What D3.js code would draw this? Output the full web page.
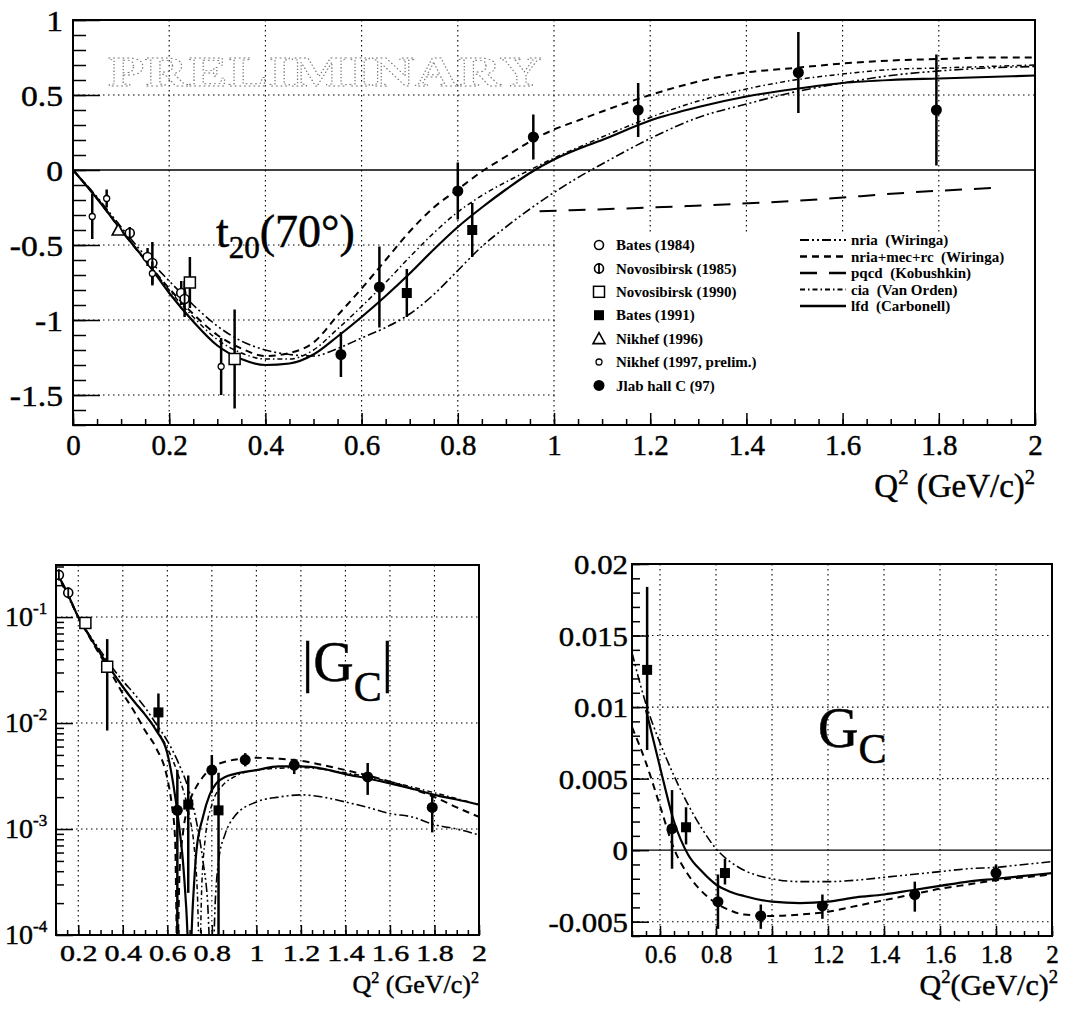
<!DOCTYPE html>
<html>
<head>
<meta charset="utf-8">
<script src="https://cdn.jsdelivr.net/npm/d3@7"></script>
<style>
  body { margin: 0; background: #fff; }
</style>
</head>
<body>
<div id="chart"></div>
<script>
// ===============Data

// ---- top panel : t20(70 deg)
var t20X = [0, 0.05, 0.1, 0.15, 0.2, 0.25, 0.3, 0.35, 0.4, 0.45, 0.5, 0.55, 0.6, 0.65, 0.7, 0.75,
            0.8, 0.85, 0.9, 0.95, 1.0, 1.05, 1.1, 1.2, 1.3, 1.4, 1.5, 1.6, 1.7, 1.8, 1.9, 2.0];
var t20Lfd = [0, -0.19, -0.4, -0.6, -0.82, -1.01, -1.17, -1.26, -1.3, -1.29, -1.23, -1.11, -0.98, -0.84, -0.69, -0.53,
              -0.38, -0.25, -0.13, -0.02, 0.07, 0.14, 0.2, 0.33, 0.42, 0.49, 0.54, 0.58, 0.6, 0.61, 0.62, 0.63];
var t20NriaMec = [0, -0.19, -0.4, -0.6, -0.79, -0.96, -1.1, -1.19, -1.24, -1.22, -1.15, -0.97, -0.79, -0.6, -0.41, -0.25,
                  -0.13, -0.01, 0.09, 0.19, 0.27, 0.33, 0.39, 0.5, 0.59, 0.65, 0.68, 0.71, 0.73, 0.74, 0.75, 0.75];
var t20Cia = [0, -0.19, -0.4, -0.6, -0.8, -0.98, -1.13, -1.22, -1.26, -1.26, -1.2, -1.06, -0.91, -0.75, -0.58, -0.42,
              -0.28, -0.17, -0.08, 0.0, 0.08, 0.15, 0.22, 0.35, 0.46, 0.54, 0.6, 0.64, 0.67, 0.68, 0.69, 0.7];
var t20Nria = [0, -0.18, -0.38, -0.57, -0.74, -0.9, -1.04, -1.14, -1.2, -1.23, -1.24, -1.19, -1.12, -1.05, -0.96, -0.83,
               -0.67, -0.51, -0.38, -0.26, -0.15, -0.05, 0.04, 0.21, 0.35, 0.44, 0.52, 0.58, 0.63, 0.66, 0.68, 0.69];
var t20PqcdX = [0.97, 1.28, 1.53, 1.74, 1.91];
var t20Pqcd = [-0.275, -0.24, -0.2, -0.15, -0.12];

// points [Q2, t20, error]
var t20Bates84 = [[0.155, -0.58, 0.06], [0.225, -0.82, 0.08]];
var t20Novo85 = [[0.118, -0.42, 0.04], [0.165, -0.62, 0.14], [0.232, -0.86, 0.12]];
var t20Novo90 = [[0.243, -0.75, 0.17], [0.336, -1.26, 0.33]];
var t20Bates91 = [[0.694, -0.82, 0.16], [0.83, -0.4, 0.18]];
var t20Nikhef96 = [[0.094, -0.4, 0.03]];
var t20Nikhef97 = [[0.04, -0.31, 0.15], [0.07, -0.19, 0.06], [0.165, -0.69, 0.08], [0.308, -1.31, 0.19]];
var t20Jlab = [[0.557, -1.23, 0.15], [0.637, -0.78, 0.27], [0.8, -0.14, 0.19], [0.957, 0.22, 0.15],
               [1.175, 0.4, 0.18], [1.508, 0.65, 0.27], [1.795, 0.4, 0.37]];

var t20XTicks = [0, 0.2, 0.4, 0.6, 0.8, 1, 1.2, 1.4, 1.6, 1.8, 2];
var t20YTicks = [-1.5, -1, -0.5, 0, 0.5, 1];

var dataNames = ["Bates (1984)", "Novosibirsk (1985)", "Novosibirsk (1990)", "Bates (1991)",
                 "Nikhef (1996)", "Nikhef (1997, prelim.)", "Jlab hall C (97)"];
var modelNames = ["nria  (Wiringa)", "nria+mec+rc  (Wiringa)", "pqcd  (Kobushkin)", "cia  (Van Orden)", "lfd  (Carbonell)"];

// ---- bottom left : |G_C| (log)
var gcAbsLfdX = [0.1, 0.15, 0.2, 0.25, 0.3, 0.35, 0.4, 0.45, 0.5, 0.55, 0.6, 0.625, 0.65, 0.67, 0.685, 0.7, 0.715,
                 0.73, 0.76, 0.79, 0.82, 0.86, 0.9, 1.0, 1.1, 1.2, 1.3, 1.4, 1.5, 1.6, 1.7, 1.8, 1.9, 2.0];
var gcAbsLfd = [0.27, 0.17, 0.1, 0.066, 0.045, 0.031, 0.022, 0.016, 0.012, 0.0085, 0.0052, 0.0028, 0.0012, 0.0005, 0.00018, 0.00005, 0.0002,
                0.0006, 0.0013, 0.0021, 0.0027, 0.0031, 0.0033, 0.0036, 0.0039, 0.0039, 0.0037, 0.0033, 0.003, 0.0027, 0.0024, 0.0021, 0.0019, 0.0017];
var gcAbsMecX = [0.1, 0.15, 0.2, 0.25, 0.3, 0.35, 0.4, 0.45, 0.5, 0.55, 0.6, 0.62, 0.635, 0.645, 0.655, 0.67,
                 0.7, 0.73, 0.76, 0.8, 0.9, 1.0, 1.1, 1.2, 1.3, 1.4, 1.5, 1.6, 1.7, 1.8, 1.9, 2.0];
var gcAbsMec = [0.27, 0.17, 0.1, 0.065, 0.043, 0.029, 0.019, 0.013, 0.0085, 0.0058, 0.003, 0.0017, 0.0008, 0.00006, 0.0004, 0.0009,
                0.0018, 0.0025, 0.0031, 0.0038, 0.0045, 0.0047, 0.0046, 0.0044, 0.004, 0.0036, 0.0032, 0.0028, 0.0024, 0.002, 0.0016, 0.0013];
var gcAbsNriaX = [0.1, 0.15, 0.2, 0.25, 0.3, 0.35, 0.4, 0.45, 0.5, 0.55, 0.6, 0.65, 0.7, 0.73, 0.76, 0.78, 0.795,
                  0.805, 0.815, 0.83, 0.86, 0.9, 1.0, 1.1, 1.2, 1.3, 1.4, 1.5, 1.6, 1.7, 1.8, 1.9, 2.0];
var gcAbsNria = [0.27, 0.17, 0.1, 0.068, 0.048, 0.034, 0.025, 0.019, 0.014, 0.0098, 0.0068, 0.0042, 0.0022, 0.0012, 0.0005, 0.00022, 0.00006,
                 0.00006, 0.0002, 0.0005, 0.0009, 0.0013, 0.0018, 0.002, 0.0021, 0.002, 0.0018, 0.0016, 0.0014, 0.0013, 0.0011, 0.001, 0.00088];
var gcAbsCiaX = [0.1, 0.2, 0.3, 0.4, 0.5, 0.55, 0.6, 0.65, 0.7, 0.72, 0.735, 0.745, 0.755, 0.77, 0.8, 0.85,
                 0.9, 1.0, 1.2, 1.4, 1.6, 1.8, 2.0];
var gcAbsCia = [0.27, 0.1, 0.046, 0.022, 0.012, 0.0088, 0.0058, 0.0032, 0.0013, 0.0007, 0.00025, 0.00006, 0.0003, 0.0008, 0.0017, 0.0026,
                0.0031, 0.0036, 0.0038, 0.0034, 0.0028, 0.0022, 0.0017];

// points [Q2, value, low, high]
var gcAbsBates84 = [[0.113, 0.25, 0.23, 0.27], [0.155, 0.17, 0.16, 0.18]];
var gcAbsNovo90 = [[0.232, 0.088, 0.082, 0.094], [0.33, 0.034, 0.0085, 0.062]];
var gcAbsBates91 = [[0.56, 0.0126, 0.0082, 0.019], [0.694, 0.0017, 0.00025, 0.0032], [0.83, 0.0015, 0.000001, 0.0034]];
var gcAbsJlab = [[0.645, 0.0015, 0.000001, 0.0036], [0.8, 0.0036, 0.0022, 0.005], [0.95, 0.0045, 0.0039, 0.0052],
                 [1.17, 0.004, 0.0033, 0.0046], [1.5, 0.0031, 0.0021, 0.0042], [1.79, 0.0016, 0.00093, 0.0021]];

var gcAbsXTicks = [0.2, 0.4, 0.6, 0.8, 1, 1.2, 1.4, 1.6, 1.8, 2];
var gcAbsYTicks = [1e-4, 1e-3, 1e-2, 1e-1];
var gcAbsYExp = ["-4", "-3", "-2", "-1"];

// ---- bottom right : G_C (linear)
var gcLfdX = [0.55, 0.6, 0.65, 0.7, 0.75, 0.8, 0.85, 0.9, 1.0, 1.1, 1.2, 1.3, 1.4, 1.5, 1.6, 1.7, 1.8, 1.9, 2.0];
var gcLfd = [0.0098, 0.0058, 0.002, -0.0003, -0.0015, -0.0024, -0.0029, -0.0032, -0.0036, -0.0037, -0.0036, -0.0033,
             -0.0031, -0.0028, -0.0025, -0.0022, -0.002, -0.0018, -0.0016];
var gcModelX = [0.5, 0.55, 0.6, 0.65, 0.7, 0.75, 0.8, 0.85, 0.9, 1.0, 1.1, 1.2, 1.3, 1.4, 1.5, 1.6, 1.7, 1.8, 1.9, 2.0];
var gcMec = [0.0086, 0.0061, 0.0031, 0.0001, -0.0017, -0.0029, -0.0037, -0.0042, -0.0045, -0.0046, -0.0045, -0.0043,
             -0.0039, -0.0035, -0.0031, -0.0027, -0.0024, -0.0021, -0.0019, -0.0017];
var gcNria = [0.0138, 0.0102, 0.0075, 0.0052, 0.0032, 0.0015, 0.0001, -0.0008, -0.0014, -0.002, -0.0022, -0.0022,
              -0.0021, -0.0019, -0.0017, -0.0015, -0.0013, -0.0012, -0.001, -0.0008];

var gcBates91 = [[0.554, 0.0126, 0.007, 0.0184], [0.693, 0.0016, 0.0004, 0.003], [0.832, -0.0016, -0.0024, -0.0006]];
var gcJlab = [[0.643, 0.0015, -0.0013, 0.0042], [0.807, -0.0036, -0.0055, -0.0017], [0.96, -0.0046, -0.0055, -0.0038],
              [1.18, -0.0039, -0.0048, -0.0031], [1.51, -0.0031, -0.0043, -0.0022], [1.8, -0.0016, -0.0022, -0.001]];

var gcXTicks = [0.6, 0.8, 1, 1.2, 1.4, 1.6, 1.8, 2];
var gcYTicks = [-0.005, 0, 0.005, 0.01, 0.015, 0.02];

// ===============Styles
var serif = '"Liberation Serif", "Times New Roman", serif';
var lineStyle = {
    nria:    { dash: "9,3,2,3,2,3", width: 1.6 },
    nriaMec: { dash: "7,5", width: 2 },
    pqcd:    { dash: "17,12", width: 2 },
    cia:     { dash: "5,3,1.5,3", width: 1.5 },
    lfd:     { dash: null, width: 2.2 }
};

// ===============SVG
var svg = d3.select("#chart").append("svg")
    .attr("width", 1067)
    .attr("height", 1012)
    .style("background", "#fff");

// ===========Scales (pixel ranges measured on the figure)
var xT = d3.scaleLinear().domain([0, 2]).range([73, 1035]);
var yT = d3.scaleLinear().domain([-1.7, 1]).range([425, 20]);
var xL = d3.scaleLinear().domain([0.1, 2]).range([56, 479]);
var yL = d3.scaleLog().domain([1e-4, 0.31]).range([935, 565]);
var xR = d3.scaleLinear().domain([0.5, 2]).range([632, 1052]);
var yR = d3.scaleLinear().domain([-0.006, 0.02]).range([936, 564]);

function pairs(xs, ys) {
    return xs.map(function(d, i) { return [d, ys[i]]; });
}

function makePanel(id, x, y, xGrid, yGrid) {
    var x0 = x.range()[0], x1 = x.range()[1], y0 = y.range()[1], y1 = y.range()[0];
    var g = svg.append("g");
    g.selectAll("line.vg").data(xGrid).enter().append("line")
        .attr("x1", d => x(d)).attr("x2", d => x(d))
        .attr("y1", y0).attr("y2", y1)
        .attr("stroke", "#000").attr("stroke-width", 1.1).attr("stroke-dasharray", "1.5,3.5");
    g.selectAll("line.hg").data(yGrid).enter().append("line")
        .attr("x1", x0).attr("x2", x1)
        .attr("y1", d => y(d)).attr("y2", d => y(d))
        .attr("stroke", "#000").attr("stroke-width", 1.1).attr("stroke-dasharray", "1.5,3.5");
    svg.append("clipPath").attr("id", id).append("rect")
        .attr("x", x0).attr("y", y0).attr("width", x1 - x0).attr("height", y1 - y0);
    var plot = svg.append("g").attr("clip-path", "url(#" + id + ")");
    return { g: g, plot: plot, x: x, y: y, x0: x0, x1: x1, y0: y0, y1: y1 };
}

function drawCurve(p, data, style) {
    var line = d3.line()
        .x(d => p.x(d[0]))
        .y(d => p.y(d[1]))
        .curve(d3.curveMonotoneX);
    p.plot.append("path")
        .datum(data)
        .attr("d", line)
        .attr("fill", "none")
        .attr("stroke", "#000")
        .attr("stroke-width", style.width)
        .attr("stroke-dasharray", style.dash);
}

function drawMarker(g, type, cx, cy) {
    var m = g.append("g").attr("transform", `translate(${cx},${cy})`);
    if (type === "fcircle") {
        m.append("circle").attr("r", 5.5).attr("fill", "#000");
    } else if (type === "ocircle") {
        m.append("circle").attr("r", 4.5).attr("fill", "#fff").attr("stroke", "#000").attr("stroke-width", 1.6);
    } else if (type === "dcircle") {
        m.append("circle").attr("r", 4.5).attr("fill", "#fff").attr("stroke", "#000").attr("stroke-width", 1.6);
        m.append("line").attr("x1", 0).attr("x2", 0).attr("y1", -5.5).attr("y2", 5.5)
            .attr("stroke", "#000").attr("stroke-width", 1.8);
    } else if (type === "osquare") {
        m.append("rect").attr("x", -5.5).attr("y", -5.5).attr("width", 11).attr("height", 11)
            .attr("fill", "#fff").attr("stroke", "#000").attr("stroke-width", 1.5);
    } else if (type === "fsquare") {
        m.append("rect").attr("x", -5).attr("y", -5).attr("width", 10).attr("height", 10).attr("fill", "#000");
    } else if (type === "otri") {
        m.append("path").attr("d", "M0,-6L6,5H-6Z")
            .attr("fill", "#fff").attr("stroke", "#000").attr("stroke-width", 1.6);
    } else if (type === "small") {
        m.append("circle").attr("r", 3).attr("fill", "#fff").attr("stroke", "#000").attr("stroke-width", 1.3);
    }
}

// points with symmetric errors [x, y, e]
function drawPointsSym(p, data, type) {
    data.forEach(function(d) {
        p.plot.append("line")
            .attr("x1", p.x(d[0])).attr("x2", p.x(d[0]))
            .attr("y1", p.y(d[1] - d[2])).attr("y2", p.y(d[1] + d[2]))
            .attr("stroke", "#000").attr("stroke-width", 2.5);
        drawMarker(p.plot, type, p.x(d[0]), p.y(d[1]));
    });
}

// points with low/high errors [x, y, lo, hi]
function drawPointsLH(p, data, type) {
    data.forEach(function(d) {
        p.plot.append("line")
            .attr("x1", p.x(d[0])).attr("x2", p.x(d[0]))
            .attr("y1", p.y(d[2])).attr("y2", p.y(d[3]))
            .attr("stroke", "#000").attr("stroke-width", 2.5);
        drawMarker(p.plot, type, p.x(d[0]), p.y(d[1]));
    });
}

// sx: horizontal stretch of the printed labels
function styleAxis(ax, size, sx) {
    ax.select(".domain").remove();
    ax.attr("font-family", serif).attr("font-size", size);
    ax.selectAll("line").attr("stroke-width", 1.5);
    ax.selectAll("text").attr("stroke", "#000").attr("stroke-width", 0.45);
    if (sx) {
        ax.selectAll("text").attr("transform", `scale(${sx},1)`)
            .attr("x", function() { return +d3.select(this).attr("x") / sx; });
    }
}

function drawFrame(p) {
    svg.append("rect")
        .attr("x", p.x0).attr("y", p.y0)
        .attr("width", p.x1 - p.x0).attr("height", p.y1 - p.y0)
        .attr("fill", "none").attr("stroke", "#000").attr("stroke-width", 2);
}

function qTitle(xRight, yBase, size, space) {
    var t = svg.append("text")
        .attr("x", xRight).attr("y", yBase)
        .attr("text-anchor", "end")
        .attr("font-family", serif).attr("font-size", size)
        .attr("stroke", "#000").attr("stroke-width", 0.45);
    t.append("tspan").text("Q");
    t.append("tspan").attr("font-size", size * 0.62).attr("dy", -size * 0.4).text("2");
    t.append("tspan").attr("dy", size * 0.4).text((space ? "\u00a0" : "") + "(GeV/c)");
    t.append("tspan").attr("font-size", size * 0.62).attr("dy", -size * 0.4).text("2");
}

// ===================== TOP PANEL : t20 =====================
var pT = makePanel("clipT", xT, yT, [0.2, 0.4, 0.6, 0.8, 1, 1.2, 1.4, 1.6, 1.8], [0.5, -0.5, -1, -1.5]);

// PRELIMINARY watermark (wide outlined letters)
pT.g.append("text")
    .attr("transform", "translate(108,86) scale(1.42,1)")
    .attr("font-family", serif).attr("font-size", 42).attr("font-weight", "bold")
    .attr("textLength", 306).attr("lengthAdjust", "spacing")
    .attr("fill", "none").attr("stroke", "#777").attr("stroke-width", 0.9)
    .attr("stroke-dasharray", "1.3,2")
    .text("PRELIMINARY");

// legend background hides the grid under it
pT.g.append("rect")
    .attr("x", xT(1) + 2).attr("y", yT(-0.42))
    .attr("width", pT.x1 - xT(1) - 3).attr("height", pT.y1 - yT(-0.42) - 1)
    .attr("fill", "#fff");

// zero line
pT.g.append("line")
    .attr("x1", pT.x0).attr("x2", pT.x1).attr("y1", yT(0)).attr("y2", yT(0))
    .attr("stroke", "#000").attr("stroke-width", 1.3);

drawCurve(pT, pairs(t20X, t20Nria), lineStyle.nria);
drawCurve(pT, pairs(t20X, t20NriaMec), lineStyle.nriaMec);
drawCurve(pT, pairs(t20X, t20Cia), lineStyle.cia);
drawCurve(pT, pairs(t20X, t20Lfd), lineStyle.lfd);
drawCurve(pT, pairs(t20PqcdX, t20Pqcd), lineStyle.pqcd);

drawPointsSym(pT, t20Bates84, "ocircle");
drawPointsSym(pT, t20Novo85, "dcircle");
drawPointsSym(pT, t20Novo90, "osquare");
drawPointsSym(pT, t20Bates91, "fsquare");
drawPointsSym(pT, t20Nikhef96, "otri");
drawPointsSym(pT, t20Nikhef97, "small");
drawPointsSym(pT, t20Jlab, "fcircle");

// ==========Axes
var xAxT = svg.append("g").attr("transform", `translate(0,${pT.y1})`)
    .call(d3.axisBottom(xT).tickValues(t20XTicks).tickSize(-12).tickSizeOuter(0).tickPadding(9).tickFormat(d => String(d)));
styleAxis(xAxT, 29);
var xAxTm = svg.append("g").attr("transform", `translate(0,${pT.y1})`)
    .call(d3.axisBottom(xT).tickValues(d3.range(0, 2.001, 0.05)).tickSize(-6).tickFormat(""));
styleAxis(xAxTm, 10);

var yAxT = svg.append("g").attr("transform", `translate(${pT.x0},0)`)
    .call(d3.axisLeft(yT).tickValues(t20YTicks).tickSize(-27).tickSizeOuter(0).tickPadding(10).tickFormat(d => String(d)));
styleAxis(yAxT, 30, 1.12);
yAxT.selectAll("text").attr("dy", "0.34em");
var yAxTm = svg.append("g").attr("transform", `translate(${pT.x0},0)`)
    .call(d3.axisLeft(yT).tickValues(d3.range(-1.7, 1.001, 0.1)).tickSize(-13).tickFormat(""));
styleAxis(yAxTm, 10);

drawFrame(pT);
qTitle(1035, 497, 33, true);

// t20(70 deg) label
var tl = svg.append("text").attr("x", 216).attr("y", 247)
    .attr("font-family", serif).attr("font-size", 46)
    .attr("stroke", "#000").attr("stroke-width", 0.5);
tl.append("tspan").text("t");
tl.append("tspan").attr("font-size", 31).attr("dy", 11).text("20");
tl.append("tspan").attr("dy", -11).text("(70\u00b0)");

// ==========Legend
var dataMarkers = ["ocircle", "dcircle", "osquare", "fsquare", "otri", "small", "fcircle"];
dataNames.forEach(function(name, i) {
    var yy = 245 + i * 23.4;
    drawMarker(svg, dataMarkers[i], 599, yy);
    svg.append("text").attr("x", 616).attr("y", yy).attr("dy", "0.35em")
        .attr("font-family", serif).attr("font-size", 15).attr("font-weight", "bold")
        .text(name);
});
var modelKeys = ["nria", "nriaMec", "pqcd", "cia", "lfd"];
modelNames.forEach(function(name, i) {
    var yy = 240 + i * 16.5;
    var st = lineStyle[modelKeys[i]];
    svg.append("line").attr("x1", 800).attr("x2", 846).attr("y1", yy).attr("y2", yy)
        .attr("stroke", "#000").attr("stroke-width", st.width + 0.5).attr("stroke-dasharray", st.dash);
    svg.append("text").attr("x", 851).attr("y", yy).attr("dy", "0.35em")
        .attr("font-family", serif).attr("font-size", 15).attr("font-weight", "bold")
        .style("white-space", "pre")
        .text(name);
});

// ===================== BOTTOM LEFT : |Gc| =====================
var pL = makePanel("clipL", xL, yL, [0.2, 0.4, 0.6, 0.8, 1, 1.2, 1.4, 1.6, 1.8], [1e-1, 1e-2, 1e-3]);

drawCurve(pL, pairs(gcAbsNriaX, gcAbsNria), lineStyle.nria);
drawCurve(pL, pairs(gcAbsMecX, gcAbsMec), lineStyle.nriaMec);
drawCurve(pL, pairs(gcAbsCiaX, gcAbsCia), lineStyle.cia);
drawCurve(pL, pairs(gcAbsLfdX, gcAbsLfd), lineStyle.lfd);

drawPointsLH(pL, gcAbsBates84, "dcircle");
drawPointsLH(pL, gcAbsNovo90, "osquare");
drawPointsLH(pL, gcAbsBates91, "fsquare");
drawPointsLH(pL, gcAbsJlab, "fcircle");

var xAxL = svg.append("g").attr("transform", `translate(0,${pL.y1})`)
    .call(d3.axisBottom(xL).tickValues(gcAbsXTicks).tickSize(-10).tickSizeOuter(0).tickPadding(9).tickFormat(d => String(d)));
styleAxis(xAxL, 24, 1.25);
var xAxLm = svg.append("g").attr("transform", `translate(0,${pL.y1})`)
    .call(d3.axisBottom(xL).tickValues(d3.range(0.1, 2.001, 0.05)).tickSize(-5).tickFormat(""));
styleAxis(xAxLm, 10);

var logMinor = [];
[-4, -3, -2, -1].forEach(function(e) {
    for (var k = 2; k <= 9; k++) {
        var v = k * Math.pow(10, e);
        if (v <= 0.31) logMinor.push(v);
    }
});
var yAxL = svg.append("g").attr("transform", `translate(${pL.x0},0)`)
    .call(d3.axisLeft(yL).tickValues(gcAbsYTicks).tickSize(-17).tickSizeOuter(0).tickFormat(""));
styleAxis(yAxL, 10);
var yAxLm = svg.append("g").attr("transform", `translate(${pL.x0},0)`)
    .call(d3.axisLeft(yL).tickValues(logMinor).tickSize(-8).tickFormat(""));
styleAxis(yAxLm, 10);

gcAbsYTicks.forEach(function(v, i) {
    var t = svg.append("text").attr("x", 5).attr("y", yL(v) + 9)
        .attr("font-family", serif).attr("font-size", 28)
        .attr("stroke", "#000").attr("stroke-width", 0.45);
    t.append("tspan").text("10");
    t.append("tspan").attr("font-size", 17).attr("dy", -12).text(gcAbsYExp[i]);
});

drawFrame(pL);
qTitle(479, 993, 26, true);

var gl = svg.append("text").attr("x", 302).attr("y", 681)
    .attr("font-family", serif).attr("font-size", 56)
    .attr("stroke", "#000").attr("stroke-width", 0.5);
gl.append("tspan").text("|G");
gl.append("tspan").attr("font-size", 42).attr("dy", 20).text("C");
gl.append("tspan").attr("dy", -20).text("|");

// ===================== BOTTOM RIGHT : Gc =====================
var pR = makePanel("clipR", xR, yR, [0.6, 0.8, 1, 1.2, 1.4, 1.6, 1.8], [0.015, 0.01, 0.005, -0.005]);

pR.g.append("line")
    .attr("x1", pR.x0).attr("x2", pR.x1).attr("y1", yR(0)).attr("y2", yR(0))
    .attr("stroke", "#000").attr("stroke-width", 1.3);

drawCurve(pR, pairs(gcModelX, gcNria), lineStyle.nria);
drawCurve(pR, pairs(gcModelX, gcMec), lineStyle.nriaMec);
drawCurve(pR, pairs(gcLfdX, gcLfd), lineStyle.lfd);

drawPointsLH(pR, gcBates91, "fsquare");
drawPointsLH(pR, gcJlab, "fcircle");

var xAxR = svg.append("g").attr("transform", `translate(0,${pR.y1})`)
    .call(d3.axisBottom(xR).tickValues(gcXTicks).tickSize(-10).tickSizeOuter(0).tickPadding(9).tickFormat(d => String(d)));
styleAxis(xAxR, 25);
var xAxRm = svg.append("g").attr("transform", `translate(0,${pR.y1})`)
    .call(d3.axisBottom(xR).tickValues(d3.range(0.5, 2.001, 0.05)).tickSize(-5).tickFormat(""));
styleAxis(xAxRm, 10);

var yAxR = svg.append("g").attr("transform", `translate(${pR.x0},0)`)
    .call(d3.axisLeft(yR).tickValues(gcYTicks).tickSize(-17).tickSizeOuter(0).tickPadding(4).tickFormat(d => String(d)));
styleAxis(yAxR, 28, 1.1);
yAxR.selectAll("text").attr("dy", "0.34em");
var yAxRm = svg.append("g").attr("transform", `translate(${pR.x0},0)`)
    .call(d3.axisLeft(yR).tickValues(d3.range(-0.006, 0.0201, 0.001)).tickSize(-8).tickFormat(""));
styleAxis(yAxRm, 10);

drawFrame(pR);
qTitle(1058, 995, 30, false);

var gr = svg.append("text").attr("x", 818).attr("y", 747)
    .attr("font-family", serif).attr("font-size", 56)
    .attr("stroke", "#000").attr("stroke-width", 0.5);
gr.append("tspan").text("G");
gr.append("tspan").attr("font-size", 42).attr("dy", 16).text("C");
</script>
</body>
</html>
